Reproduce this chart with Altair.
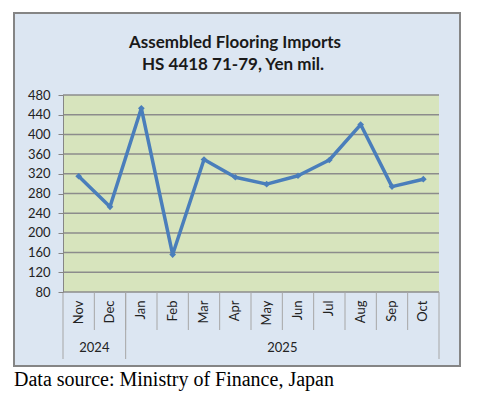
import altair as alt
import pandas as pd

# ---- data ----
months = ["Nov", "Dec", "Jan", "Feb", "Mar", "Apr", "May", "Jun", "Jul", "Aug", "Sep", "Oct"]
values = [315, 253, 453, 156, 349, 313, 299, 316, 348, 420, 294, 309]
y_ticks = [80, 120, 160, 200, 240, 280, 320, 360, 400, 440, 480]
year_labels = ["2024", "2025"]
year_label_anchor = ["Dec", "Jun"]        # label centred on start boundary of this month
year_start = ["Nov", "Jan"]               # months where a year group begins
year_end = ["Oct"]                        # month where the last group ends
title_line1 = "Assembled Flooring Imports"
title_line2 = "HS 4418 71-79, Yen mil."
source_text = "Data source: Ministry of Finance, Japan"

W, H = 376, 197
FONT = "Lato"

xscale = alt.Scale(type="band", domain=months, paddingInner=0, paddingOuter=0)
yscale = alt.Scale(domain=[80, 480], nice=False, zero=False)

xaxis = alt.Axis(title=None, labelAngle=270, ticks=False, domain=False, grid=False,
                 labelPadding=8, labelFont=FONT, labelFontSize=13, labelColor="#222222",
                 zindex=1, labelOverlap=False)
yaxis = alt.Axis(title=None, values=y_ticks, grid=False, tickSize=5, tickColor="#868686",
                 domainColor="#868686", labelPadding=8, labelFont=FONT, labelFontSize=13,
                 labelColor="#222222", zindex=1, labelOverlap=False)

one = pd.DataFrame({"a": [0]})

frame = alt.Chart(one).mark_rect(fill="#dce6f2", stroke="#858585", strokeWidth=2).encode(
    x=alt.value(-49), x2=alt.value(397), y=alt.value(-82), y2=alt.value(271))

plot_bg = alt.Chart(one).mark_rect(fill="#d7e4bd").encode(
    x=alt.value(0), x2=alt.value(W), y=alt.value(0), y2=alt.value(H))

grid = alt.Chart(pd.DataFrame({"value": y_ticks})).mark_rule(color="#8c8c8c", strokeWidth=1.5).encode(
    y=alt.Y("value:Q", scale=yscale, axis=yaxis), x=alt.value(0), x2=alt.value(W))

short_div = alt.Chart(pd.DataFrame({"month": months[1:]})).mark_rule(color="#a6a6a6", strokeWidth=1).encode(
    x=alt.X("month:N", scale=xscale, axis=xaxis, bandPosition=0),
    y=alt.value(H), y2=alt.value(H + 38))

long_div = alt.Chart(pd.DataFrame({"month": year_start})).mark_rule(color="#a6a6a6", strokeWidth=1).encode(
    x=alt.X("month:N", scale=xscale, axis=xaxis, bandPosition=0),
    y=alt.value(H), y2=alt.value(H + 67))

end_div = alt.Chart(pd.DataFrame({"month": year_end})).mark_rule(color="#a6a6a6", strokeWidth=1).encode(
    x=alt.X("month:N", scale=xscale, axis=xaxis, bandPosition=1),
    y=alt.value(H), y2=alt.value(H + 67))

line = alt.Chart(pd.DataFrame({"month": months, "value": values})).mark_line(
    color="#4a7ebb", strokeWidth=3.5, strokeJoin="round", strokeCap="round",
    point=alt.OverlayMarkDef(shape="diamond", filled=True, size=45, color="#4a7ebb")
).encode(
    x=alt.X("month:N", scale=xscale, axis=xaxis, bandPosition=0.5),
    y=alt.Y("value:Q", scale=yscale, axis=yaxis))

year_text = alt.Chart(pd.DataFrame({"month": year_label_anchor, "label": year_labels})).mark_text(
    font=FONT, fontSize=13, color="#222222", baseline="middle", align="center"
).encode(
    x=alt.X("month:N", scale=xscale, axis=xaxis, bandPosition=0),
    y=alt.value(H + 56), text="label:N")

t1 = alt.Chart(pd.DataFrame({"t": [title_line1]})).mark_text(
    font=FONT, fontSize=17, fontWeight="bold", color="#1a1a1a", align="center", baseline="alphabetic"
).encode(text="t:N", x=alt.value(172), y=alt.value(-47))

t2 = alt.Chart(pd.DataFrame({"t": [title_line2]})).mark_text(
    font=FONT, fontSize=17, fontWeight="bold", color="#1a1a1a", align="center", baseline="alphabetic"
).encode(text="t:N", x=alt.value(170), y=alt.value(-25))

src = alt.Chart(pd.DataFrame({"t": [source_text]})).mark_text(
    font="Liberation Serif", fontSize=20, color="#000000", align="left", baseline="alphabetic"
).encode(text="t:N", x=alt.value(-49), y=alt.value(291))

chart = alt.layer(frame, plot_bg, grid, short_div, long_div, end_div, line, year_text, t1, t2, src).properties(
    width=W, height=H,
    padding={"left": 55, "top": 87, "right": 31, "bottom": 102},
    autosize=alt.AutoSizeParams(type="none"),
    background="white",
).configure_view(stroke=None)

chart.save("out.html", embed_options={"renderer": "svg", "actions": False})
